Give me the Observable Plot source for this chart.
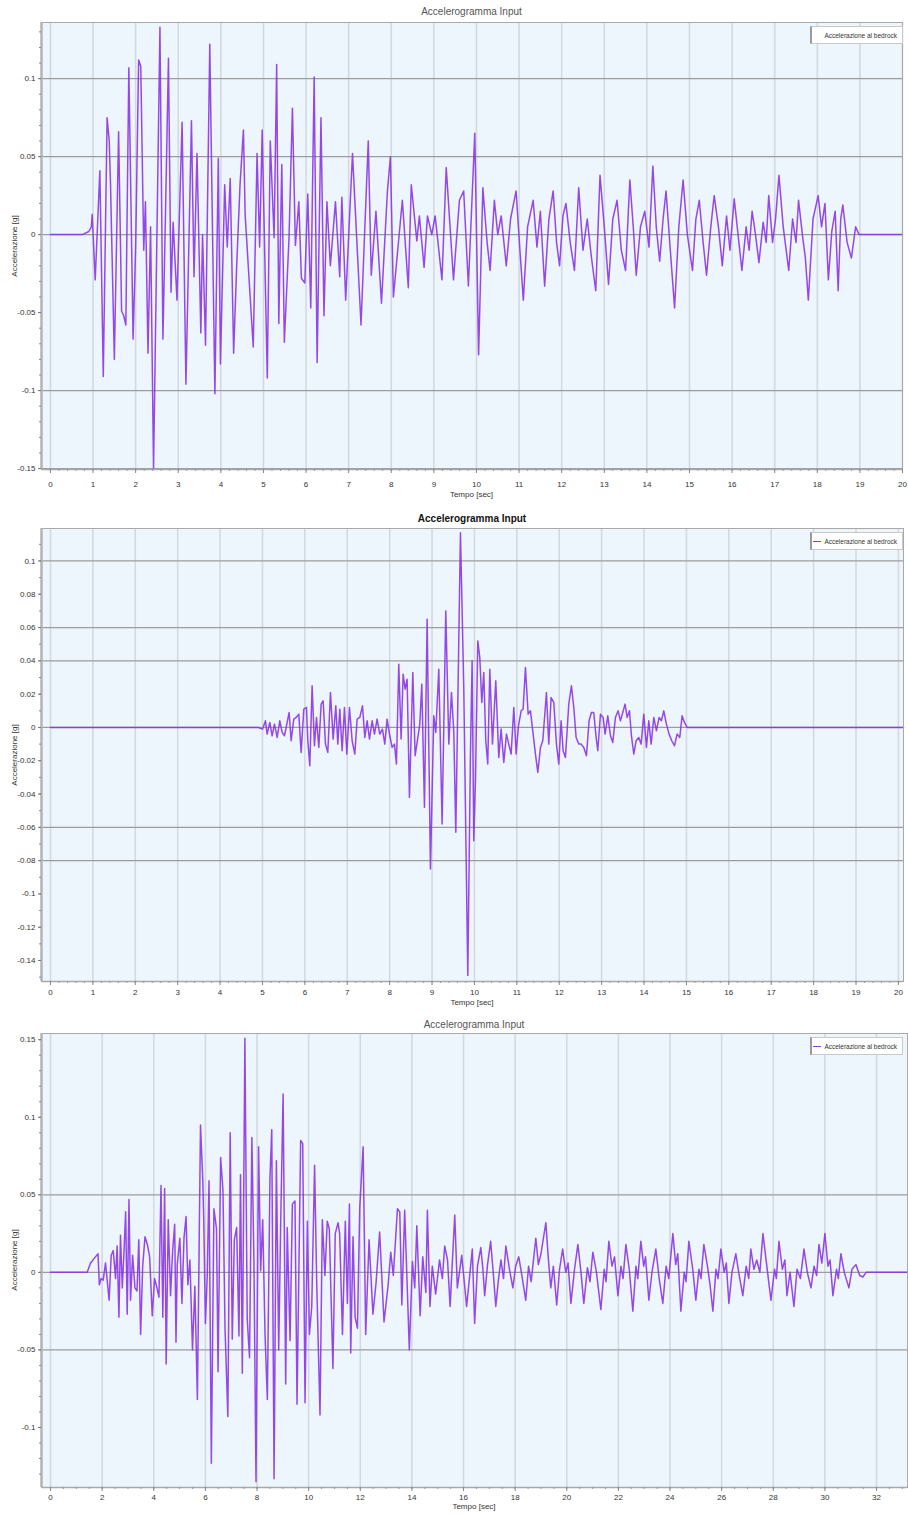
<!DOCTYPE html>
<html>
<head>
<meta charset="utf-8">
<script src="https://cdn.jsdelivr.net/npm/d3@7"></script>
<script src="https://cdn.jsdelivr.net/npm/@observablehq/plot@0.6"></script>
<style>
  html, body { margin: 0; padding: 0; background: #fff; }
  body { width: 908px; height: 1514px; position: relative; overflow: hidden; font-family: "Liberation Sans", Arial, sans-serif; }
  .panel { position: absolute; left: 0; width: 908px; }
  .title { position: absolute; text-align: center; font-size: 10px; color: #555; white-space: nowrap; }
  .xlab { position: absolute; text-align: center; font-size: 8px; color: #333; white-space: nowrap; }
  .ylab { position: absolute; text-align: center; font-size: 8px; color: #333; white-space: nowrap; transform: rotate(-90deg); transform-origin: 50% 50%; }
  .legend { position: absolute; background: #fff; border: 1px solid #c9c9c9; border-left: 2px solid #9a9a9a; box-sizing: border-box; font-size: 6.5px; color: #333; display: flex; align-items: center; justify-content: flex-end; padding-right: 5px; white-space: nowrap; }
  .swatch { display: inline-block; width: 8px; height: 0; border-top: 1.5px solid #8a35e6; margin-right: 3px; }
</style>
</head>
<body>
<script>
// ---------------- DATA ----------------
const chartTitle = "Accelerogramma Input";
const xTitle = "Tempo [sec]";
const yTitle = "Accelerazione [g]";
const legendLabel = "Accelerazione al bedrock";

// Chart 1: [time s, acceleration g]
const accel1 = [
  [0,0],[0.75,0],[0.9,0.002],[0.96,0.005],[0.98,0.013],[1.05,-0.029],[1.16,0.041],[1.24,-0.091],[1.33,0.075],[1.38,0.060],
  [1.41,0.032],[1.50,-0.080],[1.60,0.066],[1.67,-0.049],[1.72,-0.052],[1.77,-0.058],[1.84,0.107],[1.94,-0.067],[2.00,-0.008],[2.07,0.112],
  [2.12,0.108],[2.19,-0.010],[2.23,0.021],[2.29,-0.076],[2.35,0.005],[2.42,-0.150],[2.57,0.133],[2.64,-0.067],[2.70,0.013],[2.77,0.113],
  [2.83,-0.037],[2.88,0.008],[2.97,-0.042],[3.09,0.072],[3.18,-0.096],[3.31,0.073],[3.37,-0.027],[3.44,0.052],[3.53,-0.063],[3.57,0.000],
  [3.64,-0.071],[3.74,0.122],[3.86,-0.102],[3.94,0.049],[3.99,-0.083],[4.09,0.032],[4.15,-0.008],[4.22,0.036],[4.30,-0.076],[4.37,-0.021],
  [4.45,0.032],[4.53,0.067],[4.57,0.013],[4.67,-0.032],[4.76,-0.072],[4.85,0.052],[4.91,-0.008],[4.97,0.067],[5.09,-0.092],[5.16,0.060],
  [5.25,-0.002],[5.31,0.109],[5.36,-0.057],[5.43,0.045],[5.49,-0.069],[5.60,-0.002],[5.68,0.081],[5.75,-0.007],[5.83,0.021],[5.89,-0.028],
  [5.97,-0.031],[6.04,0.026],[6.11,-0.047],[6.19,0.101],[6.26,-0.082],[6.35,0.075],[6.42,-0.052],[6.49,0.021],[6.57,-0.020],[6.69,0.021],
  [6.79,-0.027],[6.84,0.024],[6.93,-0.042],[7.09,0.052],[7.29,-0.058],[7.46,0.060],[7.53,-0.026],[7.64,0.015],[7.77,-0.044],[7.91,0.028],
  [7.98,0.050],[8.05,-0.040],[8.26,0.022],[8.40,-0.034],[8.47,0.032],[8.60,-0.004],[8.66,0.012],[8.77,-0.021],[8.85,0.012],[8.95,0.000],
  [9.03,0.012],[9.19,-0.029],[9.29,0.043],[9.46,-0.029],[9.60,0.022],[9.70,0.028],[9.81,-0.033],[9.96,0.065],[10.05,-0.077],[10.15,0.030],
  [10.25,-0.005],[10.32,-0.023],[10.42,0.022],[10.50,0.000],[10.58,0.012],[10.70,-0.020],[10.80,0.010],[10.93,0.028],[11.02,-0.010],[11.10,-0.042],
  [11.20,0.005],[11.33,0.022],[11.42,-0.008],[11.50,0.015],[11.60,-0.033],[11.70,0.010],[11.80,0.028],[11.88,-0.005],[11.95,-0.020],[12.03,0.012],
  [12.10,0.020],[12.20,-0.005],[12.30,-0.023],[12.40,0.030],[12.50,-0.010],[12.60,0.010],[12.70,-0.015],[12.80,-0.036],[12.90,0.038],[13.00,0.005],
  [13.10,-0.032],[13.20,0.010],[13.30,0.022],[13.40,-0.010],[13.50,-0.023],[13.60,0.035],[13.68,0.005],[13.75,-0.026],[13.85,0.005],[13.95,0.015],
  [14.05,-0.008],[14.14,0.044],[14.22,0.005],[14.30,-0.017],[14.38,0.010],[14.45,0.028],[14.55,-0.010],[14.65,-0.047],[14.75,0.005],[14.85,0.035],
  [14.95,0.000],[15.07,-0.023],[15.15,0.010],[15.23,0.022],[15.32,-0.005],[15.40,-0.026],[15.50,0.005],[15.58,0.025],[15.68,0.005],[15.77,-0.020],
  [15.87,0.012],[15.95,-0.010],[16.05,0.023],[16.14,0.000],[16.23,-0.023],[16.33,0.005],[16.40,-0.010],[16.47,0.015],[16.55,0.000],[16.63,-0.018],
  [16.73,0.008],[16.80,-0.005],[16.86,0.025],[16.95,-0.005],[17.02,0.010],[17.10,0.038],[17.20,0.005],[17.33,-0.023],[17.42,0.010],[17.50,-0.005],
  [17.56,0.022],[17.65,0.000],[17.72,-0.015],[17.79,-0.042],[17.90,0.010],[18.02,0.025],[18.10,0.005],[18.18,0.020],[18.26,-0.029],[18.34,0.002],
  [18.42,0.015],[18.49,-0.036],[18.55,0.010],[18.60,0.019],[18.70,-0.005],[18.80,-0.015],[18.90,0.005],[18.98,0.000],[19.05,0.000],[20.0,0.000]
];

// Chart 2
const accel2 = [
  [0,0],[4.9,0],[5.0,-0.001],[5.016,0],[5.071,0.004],[5.110,-0.004],[5.173,0.003],[5.228,-0.005],[5.283,0.002],[5.346,-0.006],
  [5.409,0.004],[5.464,-0.003],[5.519,-0.005],[5.582,0.003],[5.629,0.009],[5.676,-0.008],[5.739,0.005],[5.794,0.006],[5.857,0.008],[5.912,-0.015],
  [5.975,0.011],[6.038,0.012],[6.069,-0.008],[6.116,-0.023],[6.171,0.025],[6.226,-0.011],[6.274,0.006],[6.329,-0.012],[6.384,0.014],[6.431,0.016],
  [6.486,-0.010],[6.541,-0.015],[6.604,0.021],[6.667,-0.007],[6.730,0.013],[6.777,-0.010],[6.824,0.011],[6.879,-0.014],[6.934,0.012],[6.989,-0.016],
  [7.052,0.012],[7.115,-0.008],[7.178,-0.016],[7.233,0.005],[7.296,0.006],[7.359,0.013],[7.414,-0.006],[7.469,0.004],[7.524,-0.007],[7.587,0.004],
  [7.642,-0.004],[7.704,0.005],[7.767,-0.004],[7.830,-0.001],[7.885,-0.010],[7.940,0.005],[8.003,-0.005],[8.058,-0.012],[8.113,-0.010],[8.160,-0.022],
  [8.215,0.038],[8.270,-0.007],[8.318,0.032],[8.365,0.023],[8.412,0.029],[8.467,-0.042],[8.546,0.033],[8.601,-0.017],[8.648,-0.009],[8.711,0.002],
  [8.758,0.026],[8.821,-0.048],[8.884,0.065],[8.962,-0.085],[9.041,0.007],[9.088,-0.003],[9.159,0.035],[9.237,-0.058],[9.324,0.070],[9.395,-0.010],
  [9.458,0.021],[9.513,-0.003],[9.560,-0.063],[9.670,0.117],[9.748,0.024],[9.843,-0.149],[9.906,-0.015],[9.945,0.040],[9.984,-0.068],[10.024,-0.032],
  [10.079,0.052],[10.126,0.042],[10.173,0.015],[10.220,0.033],[10.267,-0.008],[10.314,-0.022],[10.362,0.035],[10.425,-0.010],[10.503,0.028],[10.574,-0.018],
  [10.629,-0.001],[10.692,-0.021],[10.755,-0.004],[10.810,-0.010],[10.865,-0.016],[10.928,0.012],[10.983,-0.016],[11.038,0.001],[11.101,0.010],[11.148,0.011],
  [11.203,0.036],[11.266,0.008],[11.321,0.010],[11.384,-0.004],[11.439,-0.016],[11.494,-0.027],[11.557,-0.012],[11.612,-0.008],[11.698,0.021],[11.753,-0.010],
  [11.808,0.018],[11.871,0.015],[11.934,-0.010],[11.989,-0.022],[12.044,0.004],[12.091,-0.014],[12.146,-0.018],[12.225,0.014],[12.288,0.025],[12.343,0.012],
  [12.398,-0.006],[12.461,-0.010],[12.516,-0.010],[12.579,-0.012],[12.642,-0.017],[12.704,0.004],[12.759,0.009],[12.814,0.009],[12.870,-0.006],[12.909,-0.014],
  [12.972,0.008],[13.035,0.006],[13.082,-0.004],[13.145,0.007],[13.208,-0.005],[13.263,-0.009],[13.325,0.006],[13.388,0.010],[13.443,0.004],[13.498,0.009],
  [13.553,0.014],[13.601,0.006],[13.656,0.010],[13.703,-0.005],[13.758,-0.016],[13.813,-0.008],[13.876,-0.006],[13.931,-0.010],[13.994,0.008],[14.057,-0.012],
  [14.112,0.004],[14.167,-0.010],[14.230,0.006],[14.292,-0.002],[14.355,0.006],[14.410,0.004],[14.465,0.010],[14.528,0.002],[14.591,-0.004],[14.654,-0.008],
  [14.717,-0.011],[14.780,-0.004],[14.843,-0.006],[14.898,0.007],[14.953,0.003],[15.016,0],[20.12,0]
];

// Chart 3
const accel3 = [
  [0,0],[1.42,0],[1.55,0.006],[1.74,0.010],[1.84,0.012],[1.89,-0.008],[1.96,-0.004],[2.04,-0.005],[2.13,0.006],[2.20,-0.006],
  [2.27,-0.018],[2.35,0.011],[2.43,0.014],[2.52,-0.004],[2.58,0.017],[2.65,-0.029],[2.71,0.024],[2.78,-0.010],[2.84,0.011],[2.91,0.039],
  [2.97,-0.027],[3.04,0.047],[3.10,-0.018],[3.18,0.011],[3.27,-0.010],[3.35,-0.012],[3.42,0.021],[3.49,-0.040],[3.57,0.004],[3.66,0.023],
  [3.75,0.018],[3.84,0.010],[3.94,-0.028],[4.03,-0.004],[4.11,-0.009],[4.20,-0.016],[4.28,0.056],[4.35,-0.029],[4.42,0.054],[4.48,-0.059],
  [4.56,0.034],[4.65,-0.015],[4.73,0.014],[4.81,0.031],[4.86,-0.045],[4.91,0.005],[5.01,0.022],[5.09,-0.020],[5.17,0.022],[5.25,0.036],
  [5.32,-0.008],[5.40,0.008],[5.50,-0.050],[5.59,-0.009],[5.69,-0.082],[5.81,0.095],[5.90,0.059],[5.94,0.030],[6.00,-0.033],[6.07,-0.003],
  [6.14,0.059],[6.23,-0.123],[6.33,0.041],[6.43,0.028],[6.49,-0.064],[6.59,0.074],[6.68,0.053],[6.76,-0.036],[6.87,-0.093],[6.96,0.090],
  [7.04,-0.043],[7.12,0.021],[7.21,0.029],[7.30,-0.041],[7.36,0.063],[7.43,-0.065],[7.53,0.151],[7.62,-0.030],[7.71,-0.055],[7.80,0.087],
  [7.88,0.007],[7.96,-0.135],[8.06,0.081],[8.14,0.001],[8.22,0.034],[8.31,-0.040],[8.40,-0.082],[8.50,0.060],[8.57,0.092],[8.66,-0.133],
  [8.75,0.072],[8.84,-0.050],[8.92,0.035],[9.01,0.115],[9.11,-0.072],[9.17,0.029],[9.28,-0.044],[9.37,0.044],[9.47,0.046],[9.55,-0.085],
  [9.69,0.085],[9.77,0.083],[9.86,-0.084],[9.95,0.033],[10.03,-0.040],[10.12,-0.022],[10.23,0.069],[10.31,-0.005],[10.44,-0.092],[10.53,0.034],
  [10.63,-0.002],[10.72,0.033],[10.80,0.028],[10.94,-0.062],[11.03,0.025],[11.14,0.032],[11.20,0.025],[11.31,-0.040],[11.42,0.033],[11.50,-0.020],
  [11.58,0.044],[11.63,-0.052],[11.72,0.023],[11.80,-0.029],[11.89,-0.036],[11.98,0.042],[12.11,0.081],[12.21,-0.040],[12.34,0.021],[12.49,-0.027],
  [12.61,-0.007],[12.75,0.026],[12.92,-0.032],[13.08,-0.008],[13.18,0.013],[13.28,-0.002],[13.44,0.041],[13.53,0.039],[13.61,-0.021],[13.72,0.040],
  [13.90,-0.050],[14.02,0.007],[14.11,-0.010],[14.19,0.030],[14.32,-0.028],[14.42,0.010],[14.54,-0.013],[14.60,0.040],[14.70,-0.022],[14.79,0.004],
  [14.92,-0.014],[15.07,0.008],[15.18,-0.004],[15.27,0.017],[15.38,0.008],[15.48,-0.022],[15.66,0.037],[15.76,-0.010],[15.93,0.011],[16.12,-0.022],
  [16.34,0.015],[16.43,-0.033],[16.54,0.004],[16.67,0.016],[16.75,0.002],[16.82,-0.015],[16.93,0.005],[17.05,0.020],[17.15,0.000],[17.25,-0.022],
  [17.35,-0.005],[17.45,0.008],[17.55,-0.004],[17.64,0.017],[17.78,0.002],[17.91,-0.010],[18.02,0.004],[18.14,0.010],[18.28,-0.004],[18.41,-0.018],
  [18.52,0.004],[18.62,-0.006],[18.80,0.022],[18.90,0.005],[19.00,0.012],[19.19,0.032],[19.28,0.010],[19.38,-0.010],[19.48,0.004],[19.61,-0.021],
  [19.72,0.002],[19.84,0.015],[19.96,0.000],[20.05,0.006],[20.16,-0.020],[20.30,0.002],[20.43,0.018],[20.55,0.000],[20.66,-0.020],[20.80,0.003],
  [20.90,-0.006],[21.01,0.013],[21.15,0.000],[21.32,-0.024],[21.45,0.002],[21.52,-0.006],[21.63,0.020],[21.75,0.004],[21.85,0.010],[21.98,-0.015],
  [22.10,0.004],[22.18,-0.004],[22.29,0.018],[22.42,0.002],[22.56,-0.025],[22.68,0.004],[22.75,-0.004],[22.87,0.020],[22.98,0.004],[23.05,0.010],
  [23.18,-0.018],[23.30,0.000],[23.45,0.015],[23.58,-0.004],[23.72,-0.020],[23.85,0.004],[23.95,-0.004],[24.11,0.025],[24.22,0.005],[24.30,0.012],
  [24.42,-0.025],[24.55,0.000],[24.62,-0.006],[24.73,0.020],[24.88,0.002],[25.00,-0.018],[25.12,0.002],[25.20,-0.004],[25.31,0.018],[25.45,0.004],
  [25.55,-0.008],[25.66,-0.025],[25.78,0.002],[25.86,-0.004],[25.97,0.015],[26.10,0.000],[26.18,0.006],[26.28,-0.020],[26.40,0.000],[26.55,0.012],
  [26.68,-0.002],[26.82,-0.015],[26.95,0.004],[27.05,-0.004],[27.13,0.015],[27.25,0.002],[27.36,0.008],[27.48,0.000],[27.60,0.025],[27.75,0.004],
  [27.91,-0.018],[28.05,0.002],[28.12,-0.004],[28.22,0.020],[28.35,0.002],[28.45,0.008],[28.53,-0.015],[28.65,0.000],[28.80,-0.022],[28.92,0.002],
  [29.05,-0.004],[29.19,0.015],[29.32,0.000],[29.46,-0.010],[29.58,0.004],[29.68,-0.002],[29.77,0.018],[29.88,0.006],[30.00,0.025],[30.12,0.004],
  [30.20,0.008],[30.31,-0.015],[30.45,0.002],[30.52,-0.004],[30.62,0.012],[30.75,0.000],[30.93,-0.010],[31.05,0.002],[31.20,0.005],[31.35,-0.002],
  [31.47,-0.003],[31.60,0.000],[31.78,0],[33.2,0]
];

// Tick labels and gridlines
const xTicks1 = [0,1,2,3,4,5,6,7,8,9,10,11,12,13,14,15,16,17,18,19,20];
const xTicks2 = [0,1,2,3,4,5,6,7,8,9,10,11,12,13,14,15,16,17,18,19,20];
const xTicks3 = [0,2,4,6,8,10,12,14,16,18,20,22,24,26,28,30,32];
const yTicks1 = [0.1,0.05,0,-0.05,-0.1,-0.15];
const yGrid1 = [0.1,0.05,0,-0.1,-0.15];
const yTicks2 = [0.1,0.08,0.06,0.04,0.02,0,-0.02,-0.04,-0.06,-0.08,-0.1,-0.12,-0.14];
const yGrid2 = [0.1,0.06,0.04,0,-0.06,-0.08];
const yTicks3 = [0.15,0.1,0.05,0,-0.05,-0.1];
const yGrid3 = [0.05,0,-0.05];

// ---------------- DRAW ----------------
const W = 908;
const fmt = d => String(+(+d).toFixed(3));
const blank = () => "";

function addChart(cfg) {
  const data = cfg.pts.map(([t, a]) => ({t, a}));
  const yMinor = d3.range(Math.ceil(cfg.yDomain[0] * 100), Math.floor(cfg.yDomain[1] * 100) + 1).map(d => d / 100);
  const xMinor = d3.range(0, cfg.xDomain[1] + 1e-9, cfg.xMinor);
  const svg = Plot.plot({
    width: W,
    height: cfg.height,
    marginTop: cfg.mt, marginBottom: cfg.mb, marginLeft: cfg.ml, marginRight: cfg.mr,
    style: {fontFamily: "Liberation Sans, Arial, sans-serif", fontSize: "8px", color: "#333", background: "transparent", overflow: "visible"},
    x: {domain: cfg.xDomain, label: null},
    y: {domain: cfg.yDomain, label: null},
    marks: [
      Plot.frame({fill: "#eef6fd", stroke: null}),
      Plot.ruleX(cfg.xTicks, {stroke: "#d3d9df", strokeWidth: 1.6}),
      Plot.ruleY(cfg.yGrid, {stroke: "#9c9c9c", strokeWidth: 1.3}),
      Plot.line(data, {x: "t", y: "a", stroke: "#8a35e6", strokeWidth: 1.5, strokeOpacity: 0.9}),
      Plot.frame({stroke: "#a9a9a9", strokeWidth: 1}),
      Plot.ruleX([cfg.xDomain[0]], {stroke: "#b3b3b3", strokeWidth: 2.5}),
      Plot.ruleY([cfg.yDomain[0]], {stroke: "#a9a9a9", strokeWidth: 1.5}),
      Plot.axisY(yMinor, {tickSize: 2, tickFormat: blank, label: null, stroke: "#888"}),
      Plot.axisY(cfg.yTicks, {tickSize: 3, tickPadding: 3, tickFormat: fmt, label: null, fill: "#333", stroke: "#777"}),
      Plot.axisX(xMinor, {tickSize: 2, tickFormat: blank, label: null, stroke: "#999"}),
      Plot.axisX(cfg.xTicks, {tickSize: 4, tickPadding: cfg.xPad, tickFormat: fmt, label: null, fill: "#333", stroke: "#888"})
    ]
  });
  const panel = document.createElement("div");
  panel.className = "panel";
  panel.style.top = cfg.top + "px";
  panel.style.height = cfg.height + "px";
  panel.appendChild(svg);
  document.body.appendChild(panel);

  const plotLeft = cfg.ml, plotRight = W - cfg.mr;
  const cx = (plotLeft + plotRight) / 2;

  const title = document.createElement("div");
  title.className = "title";
  title.textContent = chartTitle;
  title.style.left = (cx - 150) + "px";
  title.style.width = "300px";
  title.style.top = (cfg.top + cfg.titleY - 6) + "px";
  title.style.color = cfg.titleColor;
  title.style.fontWeight = cfg.titleWeight;
  document.body.appendChild(title);

  const xl = document.createElement("div");
  xl.className = "xlab";
  xl.textContent = xTitle;
  xl.style.left = (cx - 60) + "px";
  xl.style.width = "120px";
  xl.style.top = (cfg.top + cfg.xTitleY - 5) + "px";
  document.body.appendChild(xl);

  const yl = document.createElement("div");
  yl.className = "ylab";
  yl.textContent = yTitle;
  const midY = cfg.top + (cfg.mt + cfg.height - cfg.mb) / 2;
  yl.style.width = "100px";
  yl.style.height = "10px";
  yl.style.lineHeight = "10px";
  yl.style.left = (15 - 50) + "px";
  yl.style.top = (midY - 5) + "px";
  document.body.appendChild(yl);

  const lg = document.createElement("div");
  lg.className = "legend";
  lg.style.left = "810px";
  lg.style.width = "93px";
  lg.style.top = (cfg.top + cfg.mt + 4) + "px";
  lg.style.height = "18px";
  if (cfg.swatch) {
    const sw = document.createElement("span");
    sw.className = "swatch";
    lg.appendChild(sw);
  }
  const lt = document.createElement("span");
  lt.textContent = legendLabel;
  lg.appendChild(lt);
  document.body.appendChild(lg);
}

addChart({
  top: 0, height: 505, mt: 22, mb: 36, ml: 41, mr: 6,
  pts: accel1, xDomain: [-0.21, 20.0], yDomain: [-0.1506, 0.136],
  xTicks: xTicks1, xMinor: 0.2, yTicks: yTicks1, yGrid: yGrid1, xPad: 8,
  titleY: 12, xTitleY: 495, titleColor: "#555", titleWeight: "normal", swatch: false
});
addChart({
  top: 505, height: 505, mt: 23, mb: 29, ml: 41, mr: 5,
  pts: accel2, xDomain: [-0.212, 20.12], yDomain: [-0.1526, 0.1195],
  xTicks: xTicks2, xMinor: 0.2, yTicks: yTicks2, yGrid: yGrid2, xPad: 4,
  titleY: 14, xTitleY: 498, titleColor: "#111", titleWeight: "bold", swatch: true
});
addChart({
  top: 1010, height: 504, mt: 23, mb: 27, ml: 41, mr: 1,
  pts: accel3, xDomain: [-0.35, 33.2], yDomain: [-0.1387, 0.154],
  xTicks: xTicks3, xMinor: 0.5, yTicks: yTicks3, yGrid: yGrid3, xPad: 3,
  titleY: 15, xTitleY: 497, titleColor: "#555", titleWeight: "normal", swatch: true
});
</script>
</body>
</html>
